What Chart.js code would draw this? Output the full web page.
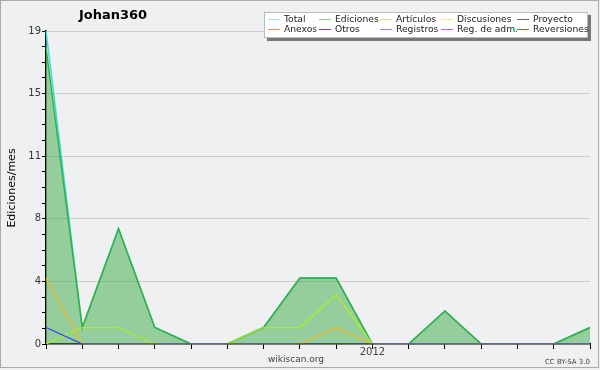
<!DOCTYPE html>
<html>
<head>
<meta charset="utf-8">
<script src="https://cdn.jsdelivr.net/npm/chart.js@4"></script>
<style>
    body { margin: 0; background: #eff0f2; }
    #wrap { width: 600px; height: 370px; position: relative; }
</style>
</head>
<body>
<div id="wrap"><canvas id="myChart" width="600" height="370"></canvas></div>
<script>
// abril 2011 .. julio 2012
const meses = ['2011-04', '2011-05', '2011-06', '2011-07', '2011-08', '2011-09', '2011-10', '2011-11',
    '2011-12', '2012-01', '2012-02', '2012-03', '2012-04', '2012-05', '2012-06', '2012-07'];

const total       = [19, 1, 7, 1, 0, 0, 1, 4, 4, 0, 0, 2, 0, 0, 0, 1];
const ediciones   = [18, 1, 7, 1, 0, 0, 1, 4, 4, 0, 0, 2, 0, 0, 0, 1];
const articulos   = [0, 1, 1, 0, 0, 0, 1, 1, 3, 0, 0, 0, 0, 0, 0, 0];
const discusiones = [4, 0, 0, 0, 0, 0, 0, 0, 1, 0, 0, 0, 0, 0, 0, 0];
const registros   = [1, 0, 0, 0, 0, 0, 0, 0, 0, 0, 0, 0, 0, 0, 0, 0];

const yMax = 19;
const leyenda = ['Total', 'Ediciones', 'Artículos', 'Discusiones', 'Proyecto',
    'Anexos', 'Otros', 'Registros', 'Reg. de adm.', 'Reversiones'];
const coloresLeyenda = ['#aae8e4', '#88cc88', '#ccee88', '#ffdd88', '#666666',
    '#ff8844', '#8833cc', '#8888ee', '#dd55dd', '#ee3333'];

const FONT = '"DejaVu Sans", Verdana, sans-serif';

// titulo, leyenda, marco y textos al pie
const decor = {
    id: 'decor',
    beforeDraw(chart) {
        const c = chart.ctx;
        c.save();
        c.fillStyle = '#eff0f2';
        c.fillRect(0, 0, 600, 370);
        c.restore();
    },
    afterDraw(chart) {
        const c = chart.ctx;
        c.save();
        c.strokeStyle = '#aaaaaa';
        c.lineWidth = 1;
        c.strokeRect(0.5, 0.5, 598, 367);

        c.fillStyle = '#000';
        c.font = 'bold 13px ' + FONT;
        c.textAlign = 'center';
        c.textBaseline = 'middle';
        c.fillText('Johan360', 113, 16);

        c.save();
        c.translate(12, 188);
        c.rotate(-Math.PI / 2);
        c.font = '11px ' + FONT;
        c.fillText('Ediciones/mes', 0, 0);
        c.restore();

        c.fillStyle = '#444';
        c.font = '9px ' + FONT;
        c.fillText('wikiscan.org', 296, 360);
        c.font = '7px ' + FONT;
        c.textAlign = 'right';
        c.fillText('CC BY-SA 3.0', 590, 362);

        // leyenda
        c.fillStyle = '#777';
        c.fillRect(267, 15, 324, 26);
        c.fillStyle = '#fff';
        c.fillRect(264, 12, 324, 26);
        c.strokeStyle = '#bbb';
        c.strokeRect(264.5, 12.5, 323, 25);
        const colX = [268, 319, 380, 441, 517];
        c.font = '9.2px ' + FONT;
        c.textAlign = 'left';
        leyenda.forEach((txt, i) => {
            const x = colX[i % 5];
            const y = i < 5 ? 19.5 : 29.5;
            c.strokeStyle = coloresLeyenda[i];
            c.beginPath();
            c.moveTo(x, y);
            c.lineTo(x + 12, y);
            c.stroke();
            c.fillStyle = '#222';
            c.fillText(txt, x + 16, y);
        });
        c.restore();
    }
};

const ctx = document.getElementById('myChart');
new Chart(ctx, {
    type: 'line',
    data: {
        labels: meses,
        datasets: [
            { label: 'Registros', data: registros, borderColor: '#3344ee', borderWidth: 1.3, order: 1 },
            { label: 'Discusiones', data: discusiones, borderColor: '#eebb22', borderWidth: 1.3, order: 2 },
            { label: 'Artículos', data: articulos, borderColor: '#aaee22', borderWidth: 1.3, order: 3 },
            { label: 'Ediciones', data: ediciones, borderColor: '#33b040', borderWidth: 1.5,
              fill: 'origin', backgroundColor: 'rgba(60,170,70,0.5)', order: 4 },
            { label: 'Total', data: total, borderColor: '#33dddd', borderWidth: 1.5, order: 5 }
        ]
    },
    options: {
        responsive: false,
        animation: false,
        layout: { padding: { left: 0, right: 10, top: 31, bottom: 0 } },
        elements: { point: { radius: 0 }, line: { tension: 0 } },
        plugins: { legend: { display: false }, tooltip: { enabled: false } },
        scales: {
            x: {
                offset: false,
                afterFit: s => { s.height = 26; },
                grid: { drawOnChartArea: false, color: '#000', tickLength: 5 },
                border: { color: '#000', width: 1.5 },
                ticks: {
                    autoSkip: false, maxRotation: 0, padding: -3,
                    color: '#444', font: { family: FONT, size: 10 },
                    callback: (v, i) => meses[i] === '2012-01' ? '2012' : ''
                }
            },
            y: {
                min: 0, max: yMax,
                afterFit: s => { s.width = 46; },
                afterBuildTicks: s => {
                    const t = [];
                    for (let i = 0; i <= 20; i++) t.push({ value: yMax * i / 20 });
                    s.ticks = t;
                },
                grid: {
                    tickLength: 4,
                    color: c => (c.index % 4 === 0 && c.index > 0) ? '#cccccc' : 'rgba(0,0,0,0)',
                    tickColor: '#000'
                },
                border: { color: '#000', width: 1.5 },
                ticks: {
                    padding: 1, color: '#333', font: { family: FONT, size: 10 },
                    callback: (v, i) => i % 4 === 0 ? String(Math.round(v)) : ''
                }
            }
        }
    },
    plugins: [decor]
});
</script>
</body>
</html>
